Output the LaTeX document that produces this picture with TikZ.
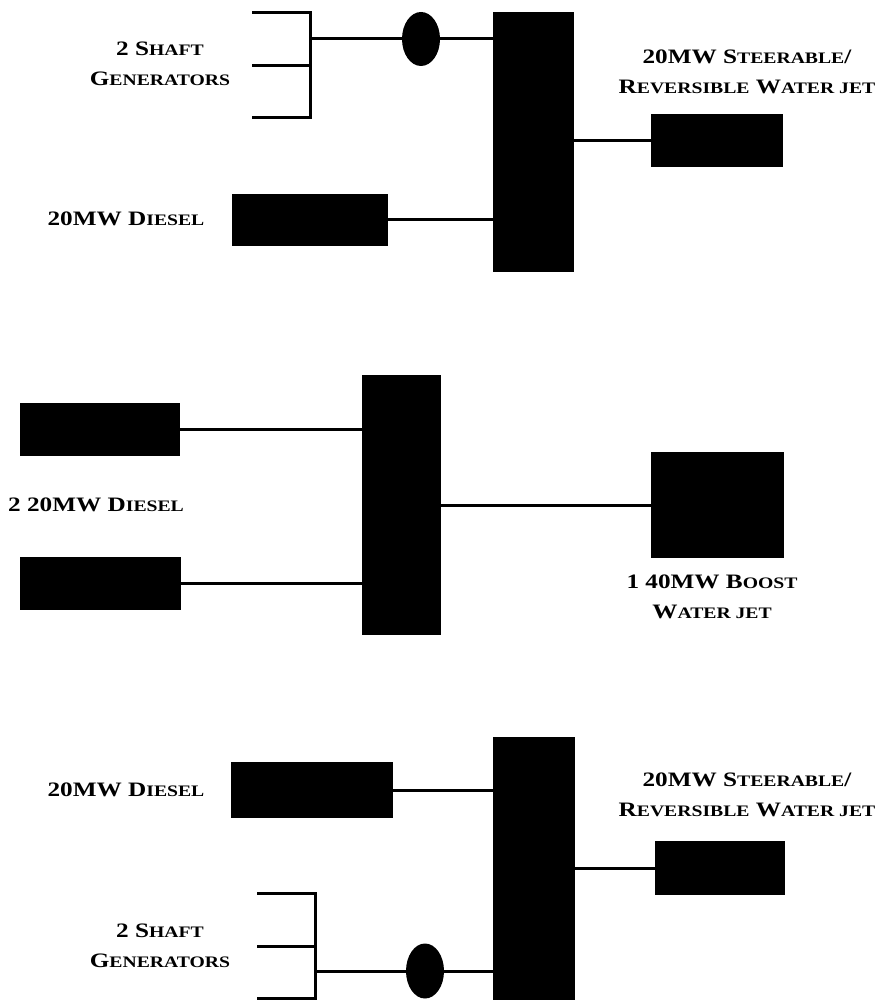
\documentclass[tikz,border=0pt]{standalone}
\usepackage{fontspec}
\setmainfont[FakeStretch=1.23]{Liberation Serif}
\usetikzlibrary{shapes.geometric}
\newcommand\sk[2]{#1{\fontsize{16}{16}\selectfont #2}}
\tikzset{
  blk/.style={fill=black,draw=none,inner sep=0pt,outer sep=0pt,rectangle},
  cpl/.style={fill=black,draw=none,inner sep=0pt,outer sep=0pt,ellipse,minimum width=38pt,minimum height=54pt},
  wire/.style={line width=3pt},
  lbl/.style={font=\bfseries\fontsize{20.5}{30}\selectfont,align=center,inner sep=0pt}
}
\begin{document}
\begin{tikzpicture}[x=1pt,y=-1pt]
\useasboundingbox (0,0) rectangle (884,1000);
% ---------- top ----------
\node[blk,minimum width=81pt,minimum height=260pt] (bus1) at (533,142) {};
\node[blk,minimum width=156pt,minimum height=52pt] (dsl1) at (310,220) {};
\node[blk,minimum width=132pt,minimum height=53pt] (jet1) at (717,140.5) {};
\node[cpl] (ell1) at (421,39) {};
\coordinate (br1) at (310,39);
\draw[wire] (252,13) -| (310,118) -- (252,118);
\draw[wire] (252,66) -- (310,66);
\draw[wire] (br1) -- (ell1.west);
\draw[wire] (ell1.east) -- (bus1.west |- ell1.east);
\draw[wire] (dsl1.east) -- (bus1.west |- dsl1.east);
\draw[wire] (bus1.east |- jet1.west) -- (jet1.west);
\node[lbl] (t1) at (160,64) {2 \sk{S}{HAFT}\\\sk{G}{ENERATORS}};
\node[lbl] (t2) at (126,219) {20MW \sk{D}{IESEL}};
\node[lbl] (t3) at (747,72) {20MW \sk{S}{TEERABLE}/\\\sk{R}{EVERSIBLE} \sk{W}{ATER JET}};
% ---------- middle ----------
\node[blk,minimum width=79pt,minimum height=260pt] (bus2) at (401.5,505) {};
\node[blk,minimum width=160pt,minimum height=53pt] (m1) at (100,429.5) {};
\node[blk,minimum width=161pt,minimum height=53pt] (m2) at (100.5,583.5) {};
\node[blk,minimum width=133pt,minimum height=106pt] (jet2) at (717.5,505) {};
\draw[wire] (m1.east) -- (bus2.west |- m1.east);
\draw[wire] (m2.east) -- (bus2.west |- m2.east);
\draw[wire] (bus2.east) -- (jet2.west);
\node[lbl,anchor=west] (t4) at (8,505) {2 20MW \sk{D}{IESEL}};
\node[lbl] (t5) at (712,597) {1 40MW \sk{B}{OOST}\\\sk{W}{ATER JET}};
% ---------- bottom ----------
\node[blk,minimum width=82pt,minimum height=263pt] (bus3) at (534,868.5) {};
\node[blk,minimum width=162pt,minimum height=56pt] (dsl3) at (312,790) {};
\node[blk,minimum width=130pt,minimum height=54pt] (jet3) at (720,868) {};
\node[cpl,minimum height=55pt] (ell3) at (425,971) {};
\coordinate (br3) at (315,971);
\draw[wire] (257,893) -| (315,998) -- (257,998);
\draw[wire] (257,946) -- (315,946);
\draw[wire] (br3) -- (ell3.west);
\draw[wire] (ell3.east) -- (bus3.west |- ell3.east);
\draw[wire] (dsl3.east) -- (bus3.west |- dsl3.east);
\draw[wire] (bus3.east |- jet3.west) -- (jet3.west);
\node[lbl] (t6) at (160,946) {2 \sk{S}{HAFT}\\\sk{G}{ENERATORS}};
\node[lbl] (t7) at (126,790) {20MW \sk{D}{IESEL}};
\node[lbl] (t8) at (747,795) {20MW \sk{S}{TEERABLE}/\\\sk{R}{EVERSIBLE} \sk{W}{ATER JET}};
\end{tikzpicture}
\end{document}
